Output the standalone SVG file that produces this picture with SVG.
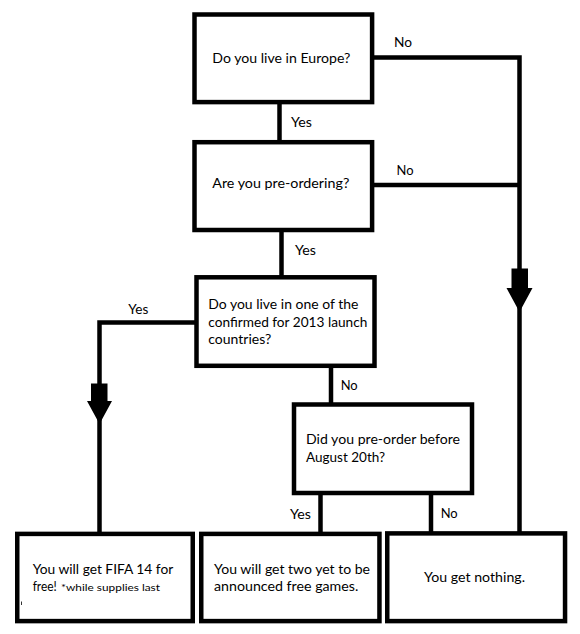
<svg xmlns="http://www.w3.org/2000/svg" width="580" height="634" viewBox="0 0 580 634">
<style>
.box{fill:#fff;stroke:#000;stroke-width:4.5}
.ln{fill:none;stroke:#000;stroke-width:4.5;stroke-linejoin:miter;stroke-linecap:butt}
.ah{fill:#000;stroke:none}
text{font-family:Lato,"Open Sans","Liberation Sans",sans-serif;font-size:14px;fill:#000}
.sm{font-size:10px}
</style>
<rect width="580" height="634" fill="#fff"/>
<g id="connectors">
<path class="ln" d="M279.5,102 V142"/>
<path class="ln" d="M372,57.5 H519.5 V533.75"/>
<path class="ln" d="M372,185 H519.5"/>
<path class="ln" d="M281.5,230 V277.3"/>
<path class="ln" d="M196.5,322.5 H99.5 V533.75"/>
<path class="ln" d="M331,365.8 V404.5"/>
<path class="ln" d="M320.5,493 V533.75"/>
<path class="ln" d="M431,493 V533.75"/>
<polygon class="ah" points="511.5,268.5 528,268.5 528,288 532.5,288 519.5,312 506.5,288 511.5,288"/>
<polygon class="ah" points="91,383.5 107.5,383.5 107.5,401 112,401 99.5,424 87,401 91,401"/>
<text x="394" y="47" textLength="18" lengthAdjust="spacingAndGlyphs">No</text>
<text x="291" y="127" textLength="21" lengthAdjust="spacingAndGlyphs">Yes</text>
<text x="396.5" y="175" textLength="17" lengthAdjust="spacingAndGlyphs">No</text>
<text x="295" y="254.5" textLength="21" lengthAdjust="spacingAndGlyphs">Yes</text>
<text x="128.3" y="313.5" textLength="20" lengthAdjust="spacingAndGlyphs">Yes</text>
<text x="340.7" y="389.5" textLength="17" lengthAdjust="spacingAndGlyphs">No</text>
<text x="290" y="518.5" textLength="21" lengthAdjust="spacingAndGlyphs">Yes</text>
<text x="440.7" y="517.5" textLength="17" lengthAdjust="spacingAndGlyphs">No</text>
</g>
<g id="q1">
<rect class="box" x="194.5" y="14.5" width="177.6" height="87.6"/>
<text x="212.3" y="62.5" textLength="138" lengthAdjust="spacingAndGlyphs">Do you live in Europe?</text>
</g>
<g id="q2">
<rect class="box" x="194.5" y="142.2" width="177.6" height="87.8"/>
<text x="212.3" y="188" textLength="137" lengthAdjust="spacingAndGlyphs">Are you pre-ordering?</text>
</g>
<g id="q3">
<rect class="box" x="196.5" y="277.3" width="178" height="88.5"/>
<text x="208.3" y="308.5" textLength="150" lengthAdjust="spacingAndGlyphs">Do you live in one of the</text>
<text x="208.3" y="326.7" textLength="159" lengthAdjust="spacingAndGlyphs">confirmed for 2013 launch</text>
<text x="208.3" y="344" textLength="63" lengthAdjust="spacingAndGlyphs">countries?</text>
</g>
<g id="q4">
<rect class="box" x="294" y="404.5" width="178" height="88.5"/>
<text x="306" y="443.5" textLength="154" lengthAdjust="spacingAndGlyphs">Did you pre-order before</text>
<text x="306" y="461.7" textLength="79" lengthAdjust="spacingAndGlyphs">August 20th?</text>
</g>
<g id="r1">
<rect class="box" x="17.25" y="533.9" width="175.5" height="87.2"/>
<text x="32.7" y="573.5" textLength="140.6" lengthAdjust="spacingAndGlyphs">You will get FIFA 14 for</text>
<text x="32.7" y="590.8" textLength="24" lengthAdjust="spacingAndGlyphs">free!</text>
<text class="sm" x="61" y="590.8" textLength="99" lengthAdjust="spacingAndGlyphs">*while supplies last</text>
<path d="M21.5,601.5 V605" stroke="#000" stroke-width="0.8"/>
</g>
<g id="r2">
<rect class="box" x="201.25" y="533.9" width="178.2" height="87.2"/>
<text x="214" y="573.5" textLength="156" lengthAdjust="spacingAndGlyphs">You will get two yet to be</text>
<text x="214" y="590.8" textLength="144.3" lengthAdjust="spacingAndGlyphs">announced free games.</text>
</g>
<g id="r3">
<rect class="box" x="387.25" y="533.4" width="177.8" height="87.7"/>
<text x="424" y="581.5" textLength="101" lengthAdjust="spacingAndGlyphs">You get nothing.</text>
</g>
</svg>
